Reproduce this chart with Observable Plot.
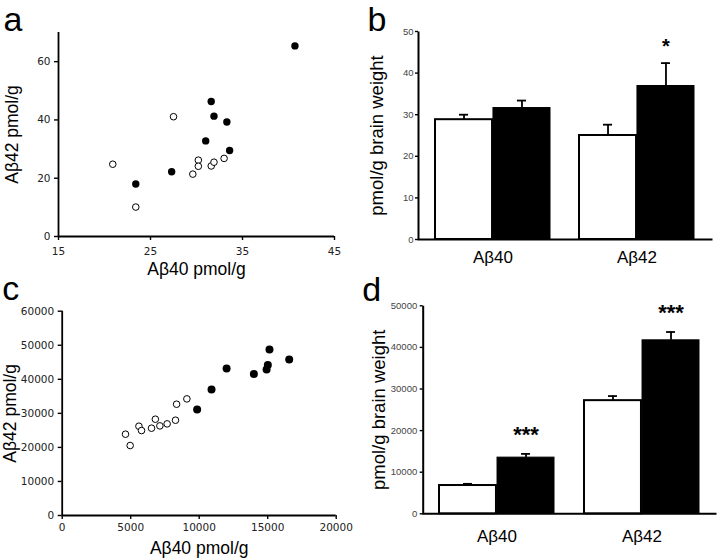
<!DOCTYPE html>
<html><head><meta charset="utf-8">
<script src="https://cdn.jsdelivr.net/npm/d3@7"></script>
<script src="https://cdn.jsdelivr.net/npm/@observablehq/plot@0.6"></script>
<style>
html,body{margin:0;padding:0;background:#fff;}
#chart{position:relative;width:720px;height:560px;overflow:hidden;background:#fff;}
#chart svg{position:absolute;}
#chart svg g[aria-label$="axis"] .tick line, #chart svg g[aria-label$="axis tick"] path{stroke:#000;stroke-width:1.4px;}
</style></head><body><div id="chart"></div>
<script>
// ---- Panel a: scatter (pmol/g) ----
const aWtX = [27.5, 20.9, 30.2, 30.2, 29.6, 31.6, 31.9, 33.0, 23.4];
const aWtY = [41.1, 24.8, 26.2, 24.1, 21.4, 24.2, 25.5, 26.8, 10.1];
const aTgX = [40.7, 31.6, 31.9, 33.3, 31.0, 33.6, 27.3, 23.4];
const aTgY = [65.4, 46.3, 41.3, 39.3, 32.8, 29.5, 22.2, 18.0];
const aXTicks = [15, 25, 35, 45];
const aYTicks = [0, 20, 40, 60];

// ---- Panel b: bars ----
const bCats = ["Aβ40", "Aβ42"];
const bWtMean = [28.8, 25.0];
const bWtSem = [1.2, 2.6];
const bTgMean = [31.6, 36.9];
const bTgSem = [1.8, 5.5];
const bSig = ["", "*"];
const bYTicks = [0, 10, 20, 30, 40, 50];

// ---- Panel c: scatter ----
const cWtX = [9100, 8350, 6800, 8270, 7660, 7130, 6520, 5600, 5790, 4620, 4960];
const cWtY = [34250, 32680, 28280, 27980, 26910, 26320, 25640, 26220, 24950, 23880, 20550];
const cTgX = [15130, 16570, 15010, 14920, 12000, 13990, 10900, 9850];
const cTgY = [48730, 45790, 44230, 42860, 43150, 41590, 36990, 31120];
const cXTicks = [0, 5000, 10000, 15000, 20000];
const cYTicks = [0, 10000, 20000, 30000, 40000, 50000, 60000];

// ---- Panel d: bars ----
const dCats = ["Aβ40", "Aβ42"];
const dWtMean = [6800, 27200];
const dWtSem = [400, 1100];
const dTgMean = [13500, 41700];
const dTgSem = [900, 2000];
const dSig = ["***", "***"];
const dYTicks = [0, 10000, 20000, 30000, 40000, 50000];

const SANS = "'Liberation Sans', Arial, Helvetica, sans-serif";
const VERD = "'DejaVu Sans', Verdana, sans-serif";
const W = 360, H = 280;

function scatterPanel(o) {
  const wt = d3.zip(o.wtX, o.wtY), tg = d3.zip(o.tgX, o.tgY);
  const svg = Plot.plot({
    width: W, height: H,
    marginTop: o.m[0], marginRight: o.m[1], marginBottom: o.m[2], marginLeft: o.m[3],
    style: {fontFamily: VERD, fontSize: "10.5px", color: "#222", background: "transparent", overflow: "visible"},
    x: {domain: o.xDomain, ticks: o.xTicks, tickSize: 4, tickPadding: o.xPad, tickFormat: d => String(d), label: null},
    y: {domain: o.yDomain, ticks: o.yTicks, tickSize: 4, tickPadding: 4, tickFormat: d => String(d), label: null},
    marks: [
      Plot.ruleY([o.yDomain[0]], {stroke: "#000", strokeWidth: 1.8}),
      Plot.ruleX([o.xDomain[0]], {stroke: "#000", strokeWidth: 1.8}),
      Plot.dot(wt, {x: d => d[0], y: d => d[1], r: o.rOpen, fill: "#fff", stroke: "#000", strokeWidth: 1}),
      Plot.dot(tg, {x: d => d[0], y: d => d[1], r: o.rFill, fill: "#000", stroke: "none"}),
      Plot.text([o.xTitle], {text: d => d, frameAnchor: "bottom", textAnchor: "middle", lineAnchor: "middle", dy: o.xTitleDy, fontSize: 17.5, fontFamily: SANS, fill: "#000"}),
      Plot.text([o.yTitle], {text: d => d, frameAnchor: "left", textAnchor: "middle", lineAnchor: "middle", rotate: -90, dx: o.yTitleDx, fontSize: 17.5, fontFamily: SANS, fill: "#000"}),
      Plot.text([o.letter], {text: d => d, frameAnchor: "top-left", textAnchor: "start", lineAnchor: "middle", dx: o.letterDx, dy: o.letterDy, fontSize: o.letterSize, fontFamily: SANS, fill: "#000"})
    ]
  });
  svg.style.left = o.left + "px";
  svg.style.top = o.top + "px";
  return svg;
}

function barPanel(o) {
  const rows = o.cats.map((c, i) => ({cat: c, wt: o.wtMean[i], wtE: o.wtSem[i], tg: o.tgMean[i], tgE: o.tgSem[i], sig: o.sig[i]}));
  const [mt, mr, mb, ml] = o.m;
  const bw = d3.scaleBand().domain(o.cats).range([ml, W - mr]).paddingInner(o.pi).paddingOuter(o.po).bandwidth();
  const fw = W - ml - mr, fh = H - mt - mb;
  const cap = 5;
  const svg = Plot.plot({
    width: W, height: H,
    marginTop: mt, marginRight: mr, marginBottom: mb, marginLeft: ml,
    style: {fontFamily: SANS, fontSize: "9.5px", color: "#444", background: "transparent", overflow: "visible"},
    x: {type: "band", domain: o.cats, paddingInner: o.pi, paddingOuter: o.po, axis: null},
    y: {domain: o.yDomain, ticks: o.yTicks, tickSize: 3, tickPadding: o.yPad, tickFormat: d => String(d), label: null},
    marks: [
      Plot.frame({stroke: "#000", strokeWidth: 2, fill: "none", strokeDasharray: `0 ${fw + fh} ${fw + fh}`}),
      Plot.ruleX(rows, {x: "cat", y1: "wt", y2: d => d.wt + d.wtE, dx: -bw / 4, stroke: "#000", strokeWidth: 1.8}),
      Plot.tickY(rows, {x: "cat", y: d => d.wt + d.wtE, insetLeft: bw / 4 - cap, insetRight: 3 * bw / 4 - cap, stroke: "#000", strokeWidth: 1.8}),
      Plot.ruleX(rows, {x: "cat", y1: "tg", y2: d => d.tg + d.tgE, dx: bw / 4, stroke: "#000", strokeWidth: 1.8}),
      Plot.tickY(rows, {x: "cat", y: d => d.tg + d.tgE, insetLeft: 3 * bw / 4 - cap, insetRight: bw / 4 - cap, stroke: "#000", strokeWidth: 1.8}),
      Plot.barY(rows, {x: "cat", y: "wt", insetRight: bw / 2, fill: "#fff", stroke: "#000", strokeWidth: 2}),
      Plot.barY(rows, {x: "cat", y: "tg", insetLeft: bw / 2, fill: "#000", stroke: "#000", strokeWidth: 1}),
      Plot.text(rows, {x: "cat", y: d => d.tg + d.tgE, text: "sig", dx: bw / 4, dy: o.sigDy, textAnchor: "middle", lineAnchor: "middle", fontSize: o.sigSize, fontWeight: "bold", fontFamily: SANS, fill: "#000"}),
      Plot.text(rows, {x: "cat", text: "cat", frameAnchor: "bottom", textAnchor: "middle", lineAnchor: "middle", dy: o.catDy, fontSize: 17, fontFamily: SANS, fill: "#000"}),
      Plot.text([o.yTitle], {text: d => d, frameAnchor: "left", textAnchor: "middle", lineAnchor: "middle", rotate: -90, dx: o.yTitleDx, fontSize: 18.5, fontFamily: SANS, fill: "#000"}),
      Plot.text([o.letter], {text: d => d, frameAnchor: "top-left", textAnchor: "start", lineAnchor: "middle", dx: o.letterDx, dy: o.letterDy, fontSize: 34, fontFamily: SANS, fill: "#000"})
    ]
  });
  svg.style.left = o.left + "px";
  svg.style.top = o.top + "px";
  return svg;
}

const chart = document.getElementById("chart");
chart.appendChild(scatterPanel({
  left: 0, top: 0, m: [32, 26, 44, 58],
  wtX: aWtX, wtY: aWtY, tgX: aTgX, tgY: aTgY,
  xDomain: [15, 45], yDomain: [0, 70], xTicks: aXTicks, yTicks: aYTicks, xPad: 7,
  rOpen: 3.3, rFill: 3.7,
  xTitle: "Aβ40 pmol/g", yTitle: "Aβ42 pmol/g", xTitleDy: 33, yTitleDx: -46,
  letter: "a", letterDx: -55, letterDy: -11.9, letterSize: 34
}));
chart.appendChild(barPanel({
  left: 360, top: 0, m: [31, 8, 41, 58],
  cats: bCats, wtMean: bWtMean, wtSem: bWtSem, tgMean: bTgMean, tgSem: bTgSem, sig: bSig,
  yDomain: [0, 50], yTicks: bYTicks, yPad: 2, pi: 0.198, po: 0.116,
  sigDy: -17, sigSize: 20, catDy: 18,
  yTitle: "pmol/g brain weight", yTitleDx: -41,
  letter: "b", letterDx: -51, letterDy: -10.9
}));
chart.appendChild(scatterPanel({
  left: 0, top: 280, m: [30.7, 24.3, 45, 61.7],
  wtX: cWtX, wtY: cWtY, tgX: cTgX, tgY: cTgY,
  xDomain: [0, 20000], yDomain: [0, 60000], xTicks: cXTicks, yTicks: cYTicks, xPad: 4,
  rOpen: 3.3, rFill: 4,
  xTitle: "Aβ40 pmol/g", yTitle: "Aβ42 pmol/g", xTitleDy: 33, yTitleDx: -52,
  letter: "c", letterDx: -60, letterDy: -22, letterSize: 34
}));
chart.appendChild(barPanel({
  left: 360, top: 280, m: [25.3, 4, 46.7, 62.7],
  cats: dCats, wtMean: dWtMean, wtSem: dWtSem, tgMean: dTgMean, tgSem: dTgSem, sig: dSig,
  yDomain: [0, 50000], yTicks: dYTicks, yPad: 3, pi: 0.205, po: 0.107,
  sigDy: -19, sigSize: 22, catDy: 23,
  yTitle: "pmol/g brain weight", yTitleDx: -44,
  letter: "d", letterDx: -61, letterDy: -16
}));
</script></body></html>
